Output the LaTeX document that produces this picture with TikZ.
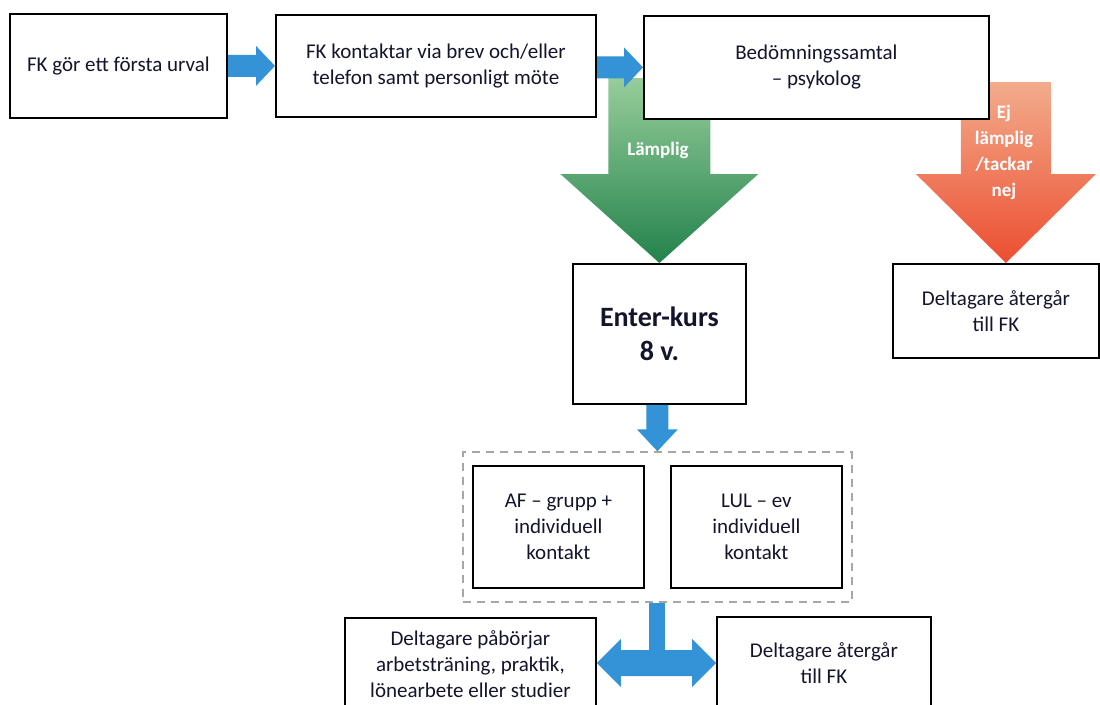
\documentclass[tikz,border=0pt]{standalone}
\usepackage{fontspec}
\setmainfont{Carlito}
\usetikzlibrary{calc, fit, backgrounds}

\definecolor{boxtext}{RGB}{20,20,45}
\definecolor{arrowblue}{RGB}{52,146,214}
\definecolor{greentop}{RGB}{150,205,155}
\definecolor{greenbot}{RGB}{35,130,75}
\definecolor{redtop}{RGB}{242,172,140}
\definecolor{redbot}{RGB}{236,78,48}

\tikzset{
  flowbox/.style={draw=black, line width=1.8pt, fill=white, align=center, inner sep=0pt,
    anchor=north west, text=boxtext, font=\fontsize{21}{26}\selectfont},
  arrowlabel/.style={text=white, align=center, font=\bfseries\fontsize{19}{26}\selectfont},
}

% horizontal block arrow: #2 start, #3 tip
\newcommand{\hblock}[3][fill=arrowblue]{%
  \path[#1] let \p1=(#2), \p2=(#3) in
    (\x1,\y2+11pt) -- (\x2-19pt,\y2+11pt) -- (\x2-19pt,\y2+20pt) -- (\x2,\y2)
    -- (\x2-19pt,\y2-20pt) -- (\x2-19pt,\y2-11pt) -- (\x1,\y2-11pt) -- cycle;}

% downward block arrow: #1 style, #2 start, #3 tip, #4 half shaft, #5 half head, #6 head length
\newcommand{\vblock}[6]{%
  \path[#1] let \p1=(#2), \p2=(#3) in
    (\x2-#4,\y1) -- (\x2-#4,\y2+#6) -- (\x2-#5,\y2+#6) -- (\x2,\y2)
    -- (\x2+#5,\y2+#6) -- (\x2+#4,\y2+#6) -- (\x2+#4,\y1) -- cycle;}

\begin{document}
\begin{tikzpicture}[x=1pt, y=-1pt]

\useasboundingbox (0,0) rectangle (1100,704);

\node[flowbox, minimum width=217pt, minimum height=104pt] (urval) at (9,13) {FK gör ett första urval};
\node[flowbox, minimum width=320pt, minimum height=102pt] (kontakt) at (275,14) {FK kontaktar via brev och/eller\\telefon samt personligt möte};
\node[flowbox, minimum width=345pt, minimum height=103pt] (bedomning) at (643,15) {Bedömningssamtal\\– psykolog};
\node[flowbox, minimum width=173pt, minimum height=140pt, font=\bfseries\fontsize{28}{34}\selectfont] (enter) at (572,263) {Enter-kurs\\8 v.};
\node[flowbox, minimum width=206pt, minimum height=94pt] (retur1) at (892,263) {Deltagare återgår\\till FK};
\node[flowbox, minimum width=171pt, minimum height=122pt] (af) at (472,465) {AF – grupp +\\individuell\\kontakt};
\node[flowbox, minimum width=171pt, minimum height=122pt] (lul) at (670,465) {LUL – ev\\individuell\\kontakt};
\node[draw=gray!70, dashed, dash pattern=on 8pt off 6pt, line width=1.5pt, inner xsep=9pt, inner ysep=13pt, fit=(af)(lul)] (grupp) {};
\node[flowbox, minimum width=251pt, minimum height=92pt] (paborjar) at (344,617) {Deltagare påbörjar\\arbetsträning, praktik,\\lönearbete eller studier};
\node[flowbox, minimum width=214pt, minimum height=92pt] (retur2) at (716,616) {Deltagare återgår\\till FK};

\coordinate (lamptop) at (658,78);
\coordinate (ejtop) at (1005,82);
\coordinate (split) at (657,663);

\begin{scope}[on background layer]
\fill[white] (0,0) rectangle (1100,704);
\vblock{top color=greentop, bottom color=greenbot}{lamptop}{enter.north}{51pt}{99pt}{89pt}
\vblock{top color=redtop, bottom color=redbot}{ejtop}{$(retur1.north)+(10,0)$}{45pt}{90pt}{89pt}
\hblock{urval.east}{kontakt.west}
\hblock{kontakt.east}{bedomning.west}
\end{scope}

\node[arrowlabel] (lamplig) at (658,150) {Lämplig};
\node[arrowlabel] (ejlamplig) at (1004,152) {Ej\\lämplig\\/tackar\\nej};

\vblock{fill=arrowblue}{enter.south}{grupp.north}{11pt}{20.5pt}{22pt}
\fill[arrowblue] ($(grupp.south)+(-8,0)$) rectangle ($(grupp.south |- split)+(8,-12)$);
\fill[arrowblue] let \p1=(paborjar.east |- split), \p2=(retur2.west |- split) in
  (\x1,\y1) -- (\x1+24pt,\y1+24pt) -- (\x1+24pt,\y1+13pt) -- (\x2-24pt,\y1+13pt) -- (\x2-24pt,\y1+24pt)
  -- (\x2,\y1) -- (\x2-24pt,\y1-24pt) -- (\x2-24pt,\y1-13pt) -- (\x1+24pt,\y1-13pt) -- (\x1+24pt,\y1-24pt) -- cycle;

\end{tikzpicture}
\end{document}
